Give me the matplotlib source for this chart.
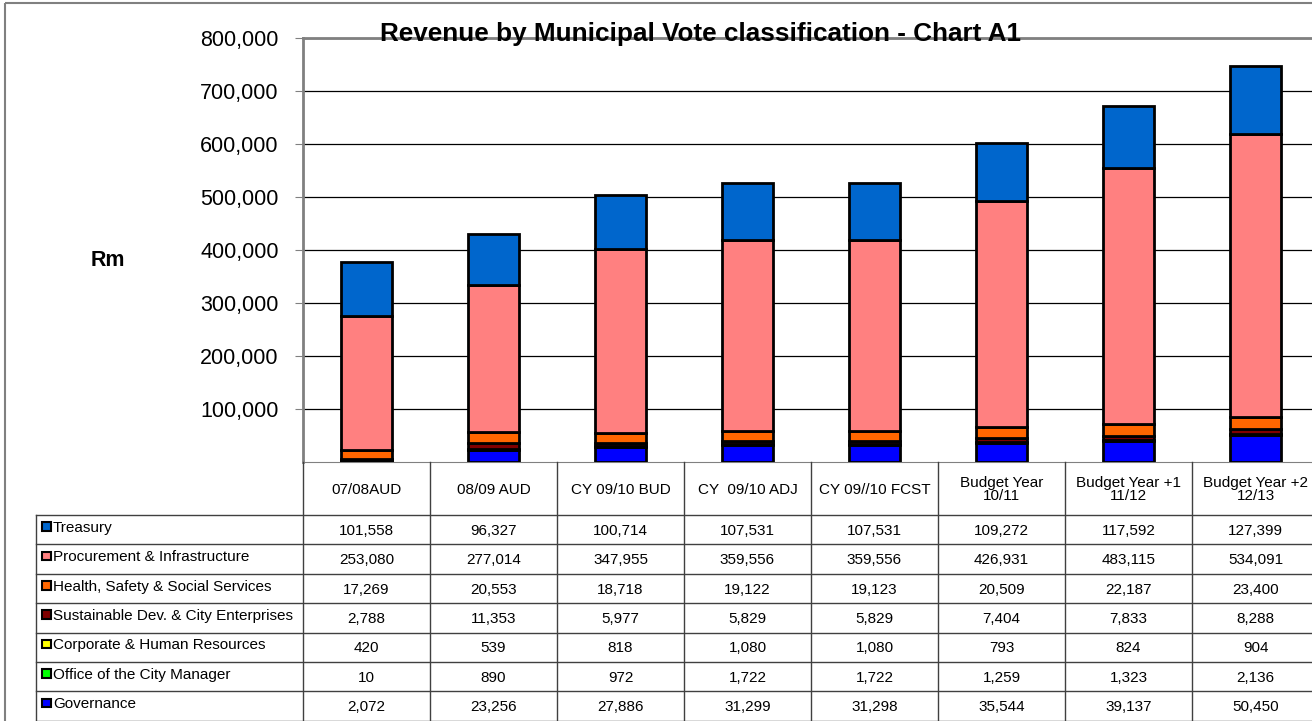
import numpy as np
import matplotlib.pyplot as plt
from matplotlib.patches import Rectangle

plt.rcParams['font.family'] = ['Liberation Sans', 'DejaVu Sans']

categories = ["07/08AUD", "08/09 AUD", "CY 09/10 BUD", "CY  09/10 ADJ", "CY 09//10 FCST",
              "Budget Year\n10/11", "Budget Year +1\n11/12", "Budget Year +2\n12/13"]

# stacked bottom -> top
governance = [2072, 23256, 27886, 31299, 31298, 35544, 39137, 50450]
city_manager = [10, 890, 972, 1722, 1722, 1259, 1323, 2136]
corporate_hr = [420, 539, 818, 1080, 1080, 793, 824, 904]
sustainable_dev = [2788, 11353, 5977, 5829, 5829, 7404, 7833, 8288]
health_safety = [17269, 20553, 18718, 19122, 19123, 20509, 22187, 23400]
procurement = [253080, 277014, 347955, 359556, 359556, 426931, 483115, 534091]
treasury = [101558, 96327, 100714, 107531, 107531, 109272, 117592, 127399]

series = [
    ("Governance", governance, "#0000FF"),
    ("Office of the City Manager", city_manager, "#00FF00"),
    ("Corporate & Human Resources", corporate_hr, "#FFFF00"),
    ("Sustainable Dev. & City Enterprises", sustainable_dev, "#800000"),
    ("Health, Safety & Social Services", health_safety, "#FF6600"),
    ("Procurement & Infrastructure", procurement, "#FF8080"),
    ("Treasury", treasury, "#0066CC"),
]

W, H = 1312, 721
fig = plt.figure(figsize=(W / 100, H / 100), dpi=100)

# plot area (in pixels: left 303, top 38, bottom 462, column width 127)
left, top, bottom, colw = 303, 38, 462, 127
ax = fig.add_axes([left / W, (H - bottom) / H, colw * 8 / W, (bottom - top) / H])
x = np.arange(len(categories))
base = np.zeros(len(categories))
for name, vals, col in series:
    ax.bar(x, vals, 0.4, bottom=base, color=col, edgecolor="black", linewidth=2, zorder=3)
    base += np.array(vals)

ax.set_xlim(-0.5, len(categories) - 0.5)
ax.set_ylim(0, 800000)
ax.set_yticks(np.arange(100000, 800001, 100000))
ax.set_yticklabels([f"{v:,}" for v in range(100000, 800001, 100000)], fontsize=15.5)
ax.tick_params(axis="y", length=6, color="#808080", pad=11.5)
ax.set_xticks([])
ax.grid(axis="y", color="black", linewidth=0.9, zorder=0)
for s in ["left", "top"]:
    ax.spines[s].set_color("#808080")
    ax.spines[s].set_linewidth(2)
ax.spines["right"].set_visible(False)
ax.spines["bottom"].set_color("#808080")

# overlay for title, axis label and data table
ov = fig.add_axes([0, 0, 1, 1], zorder=5)
ov.set_xlim(0, W)
ov.set_ylim(H, 0)
ov.axis("off")
ov.patch.set_alpha(0)

ov.add_patch(Rectangle((5, 3), W, H, fill=False, edgecolor="#808080", linewidth=1.5))
ov.text(700, 41, "Revenue by Municipal Vote classification - Chart A1", ha="center",
        va="baseline", fontsize=18.8, fontweight="bold")
ov.text(108, 261, "Rm", ha="center", va="center", fontsize=15.5, fontweight="bold")

row_top, row_h, lab_left = 515, 29.4, 36
rows = series[::-1]
nrow = len(rows)
right = left + colw * len(categories)
lc = "#404040"
# vertical lines
for i in range(len(categories) + 1):
    xx = left + i * colw
    ov.plot([xx, xx], [bottom, row_top + nrow * row_h], color=lc, lw=1)
ov.plot([lab_left, lab_left], [row_top, row_top + nrow * row_h], color=lc, lw=1)
# horizontal lines
for r in range(nrow + 1):
    yy = row_top + r * row_h
    ov.plot([lab_left, right], [yy, yy], color=lc, lw=1)

for i, c in enumerate(categories):
    ov.text(left + (i + 0.5) * colw, (bottom + row_top) / 2 + 1, c, ha="center",
            va="center", fontsize=11, linespacing=1.0)

for r, (name, vals, col) in enumerate(rows):
    yc = row_top + (r + 0.5) * row_h
    ov.add_patch(Rectangle((lab_left + 6, yc - 7.5), 8.5, 8.5, facecolor=col,
                           edgecolor="black", linewidth=1.5))
    ov.text(lab_left + 17, yc - 2, name, ha="left", va="center", fontsize=11)
    for i, v in enumerate(vals):
        ov.text(left + (i + 0.5) * colw, yc + 1, f"{v:,}", ha="center", va="center",
                fontsize=11)

fig.savefig("out.png", dpi=100)
